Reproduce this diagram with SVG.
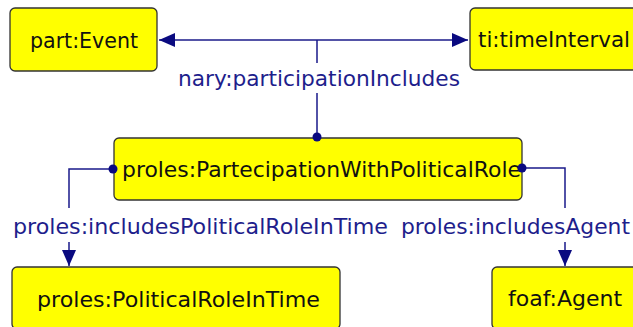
<svg xmlns="http://www.w3.org/2000/svg" width="633" height="327" viewBox="0 0 633 327">
<defs>
<style>
.node rect{fill:#ffff00;stroke:#333333;stroke-width:1.3}
.node text{font-family:"DejaVu Sans",Verdana,sans-serif;font-size:21px;fill:#111111}
.edge{fill:none;stroke:#1a1a8a;stroke-width:1.5}
.lbl{font-family:"DejaVu Sans",Verdana,sans-serif;font-size:21px;fill:#1e1e8c}
.dot{fill:#0a0a80}
</style>
<marker id="arr" viewBox="0 0 16 14" refX="16" refY="7" markerWidth="16" markerHeight="14" markerUnits="userSpaceOnUse" orient="auto">
<path d="M0,0 L16,7 L0,14 Z" fill="#0a0a80"/>
</marker>
</defs>
<rect width="633" height="327" fill="#ffffff"/>
<g id="connectors">
<path class="edge" d="M317,40 L159,40" marker-end="url(#arr)"/>
<path class="edge" d="M317,40 L468,40" marker-end="url(#arr)"/>
<path class="edge" d="M317,40 L317,63 M317,93 L317,137"/>
<text class="lbl" x="178" y="86" textLength="282" lengthAdjust="spacingAndGlyphs">nary:participationIncludes</text>
<path class="edge" d="M113,169 L69,169 L69,208 M69,242 L69,266" marker-end="url(#arr)"/>
<text class="lbl" x="13" y="234" textLength="375" lengthAdjust="spacingAndGlyphs">proles:includesPoliticalRoleInTime</text>
<path class="edge" d="M522,168 L565,168 L565,208 M565,242 L565,266" marker-end="url(#arr)"/>
<text class="lbl" x="401" y="234" textLength="229" lengthAdjust="spacingAndGlyphs">proles:includesAgent</text>
</g>
<g id="node-event" class="node">
<rect x="10" y="8" width="147" height="63" rx="5"/>
<text x="30" y="48" textLength="108" lengthAdjust="spacingAndGlyphs">part:Event</text>
</g>
<g id="node-timeinterval" class="node">
<rect x="470" y="8" width="180" height="62" rx="5"/>
<text x="478" y="47" textLength="152" lengthAdjust="spacingAndGlyphs">ti:timeInterval</text>
</g>
<g id="node-participation" class="node">
<rect x="114" y="138" width="408" height="62" rx="5"/>
<text x="122" y="177" textLength="399" lengthAdjust="spacingAndGlyphs">proles:PartecipationWithPoliticalRole</text>
</g>
<g id="node-politicalrole" class="node">
<rect x="12" y="267" width="328" height="62" rx="5"/>
<text x="37" y="307" textLength="283" lengthAdjust="spacingAndGlyphs">proles:PoliticalRoleInTime</text>
</g>
<g id="node-agent" class="node">
<rect x="492" y="267" width="160" height="62" rx="5"/>
<text x="508" y="306" textLength="114" lengthAdjust="spacingAndGlyphs">foaf:Agent</text>
</g>
<g id="connector-ends">
<circle class="dot" cx="317" cy="137" r="4.5"/>
<circle class="dot" cx="113" cy="169" r="4.5"/>
<circle class="dot" cx="522" cy="168" r="4.5"/>
</g>
</svg>
